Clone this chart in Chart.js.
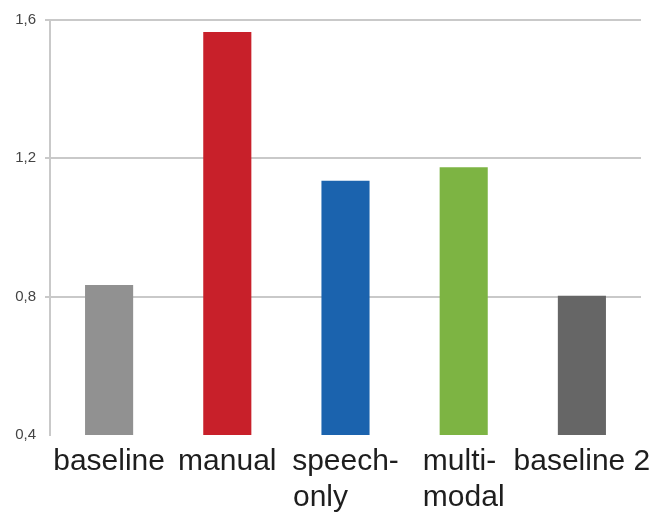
<!DOCTYPE html>
<html>
<head>
<meta charset="utf-8">
<script src="https://cdn.jsdelivr.net/npm/chart.js@4/dist/chart.umd.min.js"></script>
<style>
  html, body { margin: 0; padding: 0; background: #ffffff; }
  #wrap { width: 670px; height: 513px; position: relative; }
</style>
</head>
<body>
<div id="wrap"><canvas id="c"></canvas></div>
<script>
const categories = [["baseline"], ["manual"], ["speech-", "only"], ["multi-", "modal"], ["baseline 2"]];
const values = [0.834, 1.565, 1.135, 1.174, 0.803];
const barColors = ["#919191", "#c8202a", "#1b63ae", "#7db443", "#666666"];
const yTicks = [0.4, 0.8, 1.2, 1.6];

const X_FONT = "30px 'Liberation Sans', Arial, sans-serif";
const measureCtx = document.createElement('canvas').getContext('2d');
measureCtx.font = X_FONT;
// left-align the lines of a multi-line label by padding shorter lines with trailing spaces
function leftAlign(lines) {
  if (lines.length < 2) return lines;
  const widths = lines.map(l => measureCtx.measureText(l).width);
  const maxW = Math.max(...widths);
  const sp = measureCtx.measureText(' ').width;
  return lines.map((l, i) => l + ' '.repeat(Math.round((maxW - widths[i]) / sp)));
}

new Chart(document.getElementById('c'), {
  type: 'bar',
  data: {
    labels: categories,
    datasets: [{
      data: values,
      backgroundColor: barColors,
      borderWidth: 0,
      barPercentage: 0.407,
      categoryPercentage: 1.0
    }]
  },
  options: {
    responsive: true,
    maintainAspectRatio: false,
    animation: false,
    layout: { padding: { top: 20, right: 29, bottom: 0, left: 0 } },
    plugins: { legend: { display: false }, tooltip: { enabled: false } },
    scales: {
      x: {
        grid: { display: false },
        border: { display: false },
        ticks: {
          color: '#1e1e1e',
          padding: 1,
          maxRotation: 0,
          autoSkip: false,
          font: { family: "'Liberation Sans', Arial, sans-serif", size: 30, lineHeight: 1.2 },
          callback: function (v, i) { return leftAlign(categories[i]); }
        },
        afterFit: (s) => { s.height = 78; }
      },
      y: {
        min: 0.4,
        max: 1.6,
        afterBuildTicks: (s) => { s.ticks = yTicks.map(v => ({ value: v })); },
        ticks: {
          color: '#444444',
          padding: 9,
          font: { family: "'Liberation Sans', Arial, sans-serif", size: 15 },
          callback: (v) => Number(v).toFixed(1).replace('.', ',')
        },
        grid: {
          color: (ctx) => (ctx.tick && Math.abs(ctx.tick.value - 0.4) < 1e-6) ? 'rgba(0,0,0,0)' : '#c9c9c9',
          lineWidth: 2,
          tickLength: 5
        },
        border: { display: true, color: '#c9c9c9', width: 2 },
        afterFit: (s) => { s.width = 50; }
      }
    }
  }
});
</script>
</body>
</html>
